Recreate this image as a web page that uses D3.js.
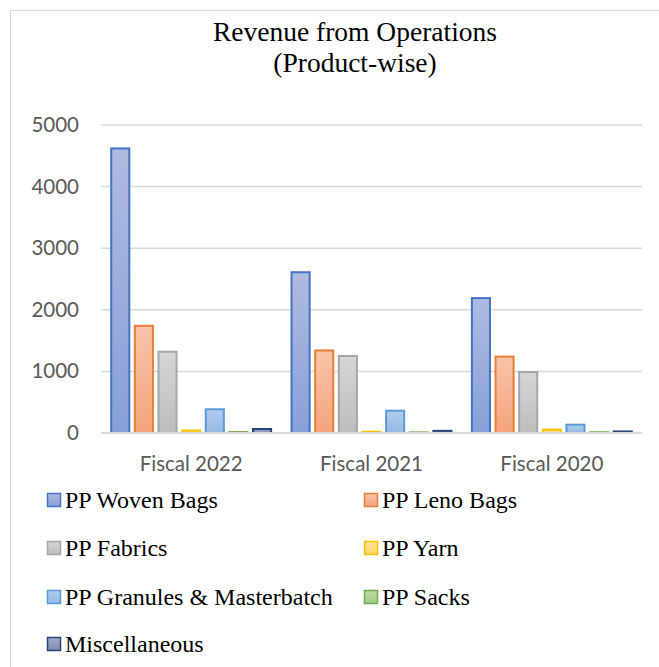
<!DOCTYPE html>
<html>
<head>
<meta charset="utf-8">
<script src="https://cdnjs.cloudflare.com/ajax/libs/d3/7.8.5/d3.min.js"></script>
<style>
  html, body { margin: 0; padding: 0; background: #ffffff; }
  svg { display: block; }
</style>
</head>
<body>
<svg id="chart" width="659" height="667"></svg>
<script>
// Revenue from operations by product, three fiscal years (₹ lakh)
const categories = ["Fiscal 2022", "Fiscal 2021", "Fiscal 2020"];
const seriesNames = [
  "PP Woven Bags", "PP Leno Bags", "PP Fabrics", "PP Yarn",
  "PP Granules & Masterbatch", "PP Sacks", "Miscellaneous"
];
const wovenBags   = [4620, 2610, 2190];
const lenoBags    = [1740, 1340, 1240];
const fabrics     = [1320, 1250, 990];
const yarn        = [40, 20, 55];
const granules    = [385, 362, 135];
const sacks       = [15, 10, 12];
const misc        = [65, 35, 25];
const yTicks = [0, 1000, 2000, 3000, 4000, 5000];

const seriesValues = [wovenBags, lenoBags, fabrics, yarn, granules, sacks, misc];

// fill gradient (top, bottom) and outline per series
const palette = [
  { top: "#aebbe2", bottom: "#889fd7", stroke: "#4472c4" },
  { top: "#f7c4aa", bottom: "#f4a47c", stroke: "#ed7d31" },
  { top: "#d6d6d6", bottom: "#bdbdbd", stroke: "#a5a5a5" },
  { top: "#ffe39a", bottom: "#ffd461", stroke: "#ffc000" },
  { top: "#b1cdee", bottom: "#93b9e4", stroke: "#5b9bd5" },
  { top: "#bcdaa8", bottom: "#a3cc88", stroke: "#70ad47" },
  { top: "#a2abc4", bottom: "#7f8cae", stroke: "#264478" }
];

const svg = d3.select("#chart");
const defs = svg.append("defs");
palette.forEach((p, i) => {
  const g = defs.append("linearGradient")
    .attr("id", "grad" + i)
    .attr("x1", 0).attr("y1", 0).attr("x2", 0).attr("y2", 1);
  g.append("stop").attr("offset", "0%").attr("stop-color", p.top);
  g.append("stop").attr("offset", "100%").attr("stop-color", p.bottom);
});

// chart frame
svg.append("rect")
  .attr("x", 10.5).attr("y", 10.5)
  .attr("width", 700).attr("height", 700)
  .attr("fill", "none").attr("stroke", "#d9d9d9").attr("stroke-width", 1);

const plot = { left: 101, right: 642, top: 125, bottom: 433 };

const x0 = d3.scaleBand()
  .domain(categories)
  .range([plot.left, plot.right])
  .paddingInner(0).paddingOuter(0);

const x1 = d3.scaleBand()
  .domain(seriesNames)
  .range([0, x0.bandwidth()])
  .paddingInner(0.15).paddingOuter(0.39);

const y = d3.scaleLinear()
  .domain([0, 5000])
  .range([plot.bottom, plot.top]);

// title
const title = svg.append("text")
  .attr("text-anchor", "middle")
  .attr("font-family", "'Liberation Serif', 'Times New Roman', serif")
  .attr("font-size", 27.5)
  .attr("fill", "#000");
title.append("tspan").attr("x", 355).attr("y", 41).text("Revenue from Operations");
title.append("tspan").attr("x", 355).attr("y", 72).text("(Product-wise)");

// horizontal gridlines
svg.append("g")
  .selectAll("line")
  .data(yTicks.filter(t => t > 0))
  .join("line")
  .attr("x1", plot.left).attr("x2", plot.right)
  .attr("y1", d => y(d)).attr("y2", d => y(d))
  .attr("stroke", "#d9d9d9").attr("stroke-width", 1.5);

// y axis labels
const yAxis = d3.axisLeft(y).tickValues(yTicks).tickFormat(d3.format("d"))
  .tickSize(0).tickPadding(22);
const yg = svg.append("g").attr("transform", `translate(${plot.left},0)`).call(yAxis);
yg.select(".domain").remove();
yg.selectAll("text")
  .attr("font-family", "Lato, 'Open Sans', sans-serif")
  .attr("font-size", 20.5)
  .attr("fill", "#595959");

// bars
const groups = svg.append("g")
  .selectAll("g")
  .data(categories)
  .join("g")
  .attr("transform", d => `translate(${x0(d)},0)`);

groups.selectAll("rect")
  .data((c, ci) => seriesNames.map((s, si) => ({ s, si, v: seriesValues[si][ci] })))
  .join("rect")
  .attr("x", d => x1(d.s) + 1)
  .attr("width", x1.bandwidth() - 2)
  .attr("y", d => y(d.v))
  .attr("height", d => Math.max(0, y(0) - y(d.v)))
  .attr("fill", d => `url(#grad${d.si})`)
  .attr("stroke", d => palette[d.si].stroke)
  .attr("stroke-width", 2);

// baseline
svg.append("line")
  .attr("x1", plot.left).attr("x2", plot.right)
  .attr("y1", y(0)).attr("y2", y(0))
  .attr("stroke", "#d9d9d9").attr("stroke-width", 2);

// category labels
const xAxis = d3.axisBottom(x0).tickSize(0).tickPadding(23);
const xg = svg.append("g").attr("transform", `translate(0,${plot.bottom})`).call(xAxis);
xg.select(".domain").remove();
xg.selectAll("text")
  .attr("font-family", "Lato, 'Open Sans', sans-serif")
  .attr("font-size", 20.5)
  .attr("fill", "#595959");

// legend: two columns
const legendCols = [47, 364];
const legendRows = [500, 548, 597, 644];
const legend = svg.append("g")
  .selectAll("g")
  .data(seriesNames)
  .join("g")
  .attr("transform", (d, i) => `translate(${legendCols[i % 2]},${legendRows[Math.floor(i / 2)]})`);

legend.append("rect")
  .attr("x", 0.5).attr("y", -6.5)
  .attr("width", 13).attr("height", 13)
  .attr("fill", (d, i) => `url(#grad${i})`)
  .attr("stroke", (d, i) => palette[i].stroke)
  .attr("stroke-width", 1.5);

legend.append("text")
  .attr("x", 18).attr("y", 0)
  .attr("dy", "0.35em")
  .attr("font-family", "'Liberation Serif', 'Times New Roman', serif")
  .attr("font-size", 24)
  .attr("fill", "#000")
  .text(d => d);
</script>
</body>
</html>
